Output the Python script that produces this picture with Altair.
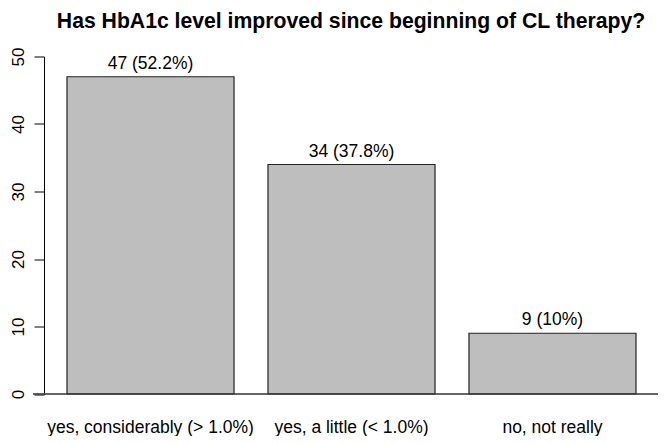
import altair as alt
import pandas as pd

categories = ["yes, considerably (> 1.0%)", "yes, a little (< 1.0%)", "no, not really"]
counts = [47, 34, 9]
bar_labels = ["47 (52.2%)", "34 (37.8%)", "9 (10%)"]
y_ticks = [0, 10, 20, 30, 40, 50]
title_text = "Has HbA1c level improved since beginning of CL therapy?"

df = pd.DataFrame({"category": categories, "count": counts, "label": bar_labels})
base_df = pd.DataFrame({"y": [0]})

FONT = "Liberation Sans"

x_scale = alt.Scale(range=[23, 592], paddingInner=0.169, paddingOuter=0)
y_scale = alt.Scale(domain=[0, 50], nice=False, zero=True)

x_axis = alt.Axis(
    title=None, domain=False, ticks=False, tickSize=0, labelAngle=0, grid=False,
    labelFont=FONT, labelFontSize=17.5, labelColor="black",
    labelBaseline="alphabetic", labelPadding=38, labelLimit=400,
)
y_axis = alt.Axis(
    title=None, values=y_ticks, grid=False, tickSize=10, tickColor="black",
    tickWidth=1, domainColor="black", domainWidth=1,
    labelAngle=270, labelAlign="center", labelBaseline="alphabetic",
    labelPadding=10.5, labelFont=FONT, labelFontSize=17, labelColor="black",
)

x_enc = alt.X("category:N", sort=categories, scale=x_scale, axis=x_axis)
y_enc = alt.Y("count:Q", scale=y_scale, axis=y_axis)

bars = alt.Chart(df).mark_bar(
    fill="#BEBEBE", stroke="#222222", strokeWidth=1.2
).encode(x=x_enc, y=y_enc)

texts = alt.Chart(df).mark_text(
    baseline="alphabetic", dy=-8, font=FONT, fontSize=17.5, color="black"
).encode(x=x_enc, y=y_enc, text="label:N")

baseline = alt.Chart(base_df).mark_rule(color="#333333", strokeWidth=1.5).encode(
    y=alt.Y("y:Q", scale=y_scale, axis=y_axis), x=alt.value(-11), x2=alt.value(614)
)

chart = alt.layer(bars, baseline, texts).properties(
    width=614,
    height=337.5,
    background="white",
    title=alt.TitleParams(
        text=title_text, font=FONT, fontSize=21.2, fontWeight="bold",
        color="black", anchor="middle", frame="group", baseline="alphabetic",
        offset=-2,
    ),
    autosize=alt.AutoSizeParams(type="none"),
    padding={"left": 36, "top": 48.5, "right": 0, "bottom": 42},
).configure_view(stroke=None).configure_axis(grid=False)

chart.save("out.html", embed_options={"renderer": "svg", "actions": False})
